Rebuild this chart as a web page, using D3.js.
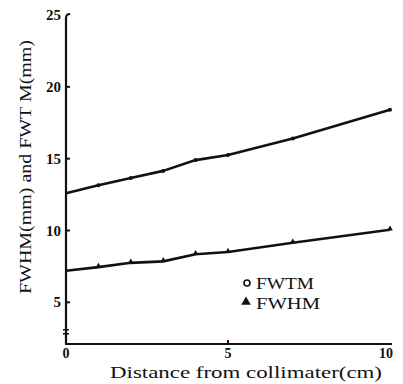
<!DOCTYPE html>
<html>
<head>
<meta charset="utf-8">
<script src="https://cdn.jsdelivr.net/npm/d3@7"></script>
<style>
  body { margin: 0; background: #fff; }
  svg text { font-family: "Liberation Serif", "DejaVu Serif", serif; fill: #111; }
</style>
</head>
<body>
<svg id="chart" width="403" height="384"></svg>
<script>
// distance from collimator (cm)
var distances = [0, 1, 2, 3, 4, 5, 7, 10];
var fwtm = [12.6, 13.15, 13.65, 14.15, 14.9, 15.25, 16.4, 18.4];
var fwhm = [7.2, 7.45, 7.75, 7.85, 8.35, 8.5, 9.15, 10.05];
var x_ticks = [0, 5, 10];
var y_ticks = [5, 10, 15, 20, 25];
var series_names = ["FWTM", "FWHM"];

var svg = d3.select("#chart");

var x = d3.scaleLinear().domain([0, 10]).range([66, 390]);
// the y axis is broken below 5, so the x axis sits at about 2.1
var y = d3.scaleLinear().domain([2.1, 25]).range([344, 15]);

var ink = "#111";

// axes lines
svg.append("line")
    .attr("x1", x(0)).attr("x2", x(0))
    .attr("y1", y(25) + 2).attr("y2", y(2.1))
    .attr("stroke", ink).attr("stroke-width", 2.2);
svg.append("line")
    .attr("x1", x(0) - 1).attr("x2", x(10) + 2)
    .attr("y1", y(2.1)).attr("y2", y(2.1))
    .attr("stroke", ink).attr("stroke-width", 2.2);

// hook at the top of the y axis
svg.append("path")
    .attr("d", "M" + x(0) + "," + (y(25) + 3) + " q0,-4 4,-4")
    .attr("fill", "none").attr("stroke", ink).attr("stroke-width", 2);

// axis break mark
svg.append("path")
    .attr("d", "M" + (x(0) - 3) + "," + (y(2.95) - 2) + " h6 M" + (x(0) - 3) + "," + (y(2.95) + 2) + " h6")
    .attr("stroke", ink).attr("stroke-width", 1.5);

// y ticks (inside)
y_ticks.forEach(function(t) {
    if (t < 25) {
        svg.append("line")
            .attr("x1", x(0)).attr("x2", x(0) + 4)
            .attr("y1", y(t)).attr("y2", y(t))
            .attr("stroke", ink).attr("stroke-width", 2);
    }
    svg.append("text")
        .attr("x", x(0) - 5)
        .attr("y", y(t) + 5)
        .attr("text-anchor", "end")
        .attr("font-size", 15)
        .attr("font-weight", "bold")
        .text(t);
});

// x ticks
x_ticks.forEach(function(t) {
    if (t > 0 && t < 10) {
        svg.append("line")
            .attr("x1", x(t)).attr("x2", x(t))
            .attr("y1", y(2.1)).attr("y2", y(2.1) - 4)
            .attr("stroke", ink).attr("stroke-width", 2);
    }
    svg.append("text")
        .attr("x", t == 10 ? x(t) - 4 : x(t))
        .attr("y", y(2.1) + 14)
        .attr("text-anchor", "middle")
        .attr("font-size", 14)
        .attr("font-weight", "bold")
        .text(t);
});

// axis titles
svg.append("text")
    .attr("x", 246)
    .attr("y", 378)
    .attr("text-anchor", "middle")
    .attr("font-size", 17)
    .attr("textLength", 272)
    .attr("lengthAdjust", "spacingAndGlyphs")
    .text("Distance from collimater(cm)");

svg.append("text")
    .attr("transform", "translate(31,167) rotate(-90)")
    .attr("text-anchor", "middle")
    .attr("font-size", 17)
    .attr("textLength", 254)
    .attr("lengthAdjust", "spacingAndGlyphs")
    .text("FWHM(mm) and FWT M(mm)");

// lines
var line = d3.line()
    .x(function(d) { return x(d[0]); })
    .y(function(d) { return y(d[1]); });

[fwtm, fwhm].forEach(function(vals) {
    svg.append("path")
        .datum(distances.map(function(d, i) { return [d, vals[i]]; }))
        .attr("d", line)
        .attr("fill", "none")
        .attr("stroke", ink)
        .attr("stroke-width", 2.6)
        .attr("stroke-linejoin", "round");
});

// markers (tiny in the original)
distances.forEach(function(d, i) {
    if (d == 0) return;
    svg.append("circle")
        .attr("cx", x(d)).attr("cy", y(fwtm[i]))
        .attr("r", 2).attr("fill", ink);
    svg.append("path")
        .attr("d", d3.symbol().type(d3.symbolTriangle).size(14))
        .attr("transform", "translate(" + x(d) + "," + (y(fwhm[i]) - 1) + ")")
        .attr("fill", ink);
});

// legend
var legend = svg.append("g").attr("transform", "translate(246,283)");
legend.append("circle")
    .attr("cx", 1).attr("cy", 0).attr("r", 3)
    .attr("fill", "none").attr("stroke", ink).attr("stroke-width", 1.6);
legend.append("path")
    .attr("d", d3.symbol().type(d3.symbolTriangle).size(40))
    .attr("transform", "translate(0,19)")
    .attr("fill", ink);
series_names.forEach(function(name, i) {
    legend.append("text")
        .attr("x", 10)
        .attr("y", i * 20 + 6)
        .attr("font-size", 17)
        .attr("textLength", name == "FWTM" ? 58 : 64)
        .attr("lengthAdjust", "spacingAndGlyphs")
        .text(name);
});
</script>
</body>
</html>
